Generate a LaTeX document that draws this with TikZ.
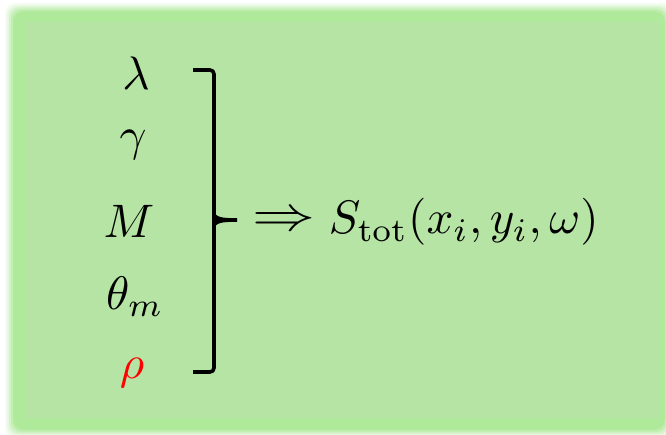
\documentclass[tikz,border=0pt]{standalone}
\definecolor{boxfill}{HTML}{B5E4A4}
\definecolor{glowfill}{HTML}{AEEA9A}
\definecolor{symred}{HTML}{FF0000}
\begin{document}
\begin{tikzpicture}[x=1pt,y=-1pt,
  sym/.style={inner sep=0pt, scale=4.7},
  brk/.style={line width=3.6pt, line cap=butt, line join=round}]
\useasboundingbox (0,0) rectangle (666,435);
\fill[white] (0,0) rectangle (666,435);
% soft glow frame
\foreach \d/\o in {9/0.12,7/0.2,5/0.3,3/0.5,1/0.75,0/1}{
  \fill[glowfill, opacity=\o, rounded corners=10pt] (14-\d,12-\d) rectangle (664+\d,429+\d);
}
\fill[boxfill] (25,22) rectangle (659,418);
% symbols
\node[sym] (lam) at (136,73) {$\lambda$};
\node[sym] (gam) at (133,145) {$\gamma$};
\node[sym] (M) at (129,221) {$M$};
\node[sym] (thm) at (135,297) {$\theta_m$};
\node[sym, text=symred] (rho) at (132,373) {$\rho$};
% bracket
\coordinate (bt0) at (193,70);
\coordinate (bt1) at (214,70);
\coordinate (bb0) at (193,372);
\coordinate (bb1) at (214,372);
\coordinate (bm) at (214,220);
\coordinate (tip) at (237,220);
\draw[brk, rounded corners=4pt] (bt0) -- (bt1) -- (bb1) -- (bb0);
\fill (214,210) .. controls (215,217) and (220,218.2) .. (237,218.2)
  -- (237,221.8) .. controls (220,221.8) and (215,223) .. (214,230) -- cycle;
% implication and result
\node[inner sep=0pt, xscale=6.3, yscale=4.9] (arr) at (284,222) {$\Rightarrow$};
\node[sym, anchor=base west] (S) at (328,234) {$S_{\mathrm{tot}}(x_i,y_i,\omega)$};
\end{tikzpicture}
\end{document}
